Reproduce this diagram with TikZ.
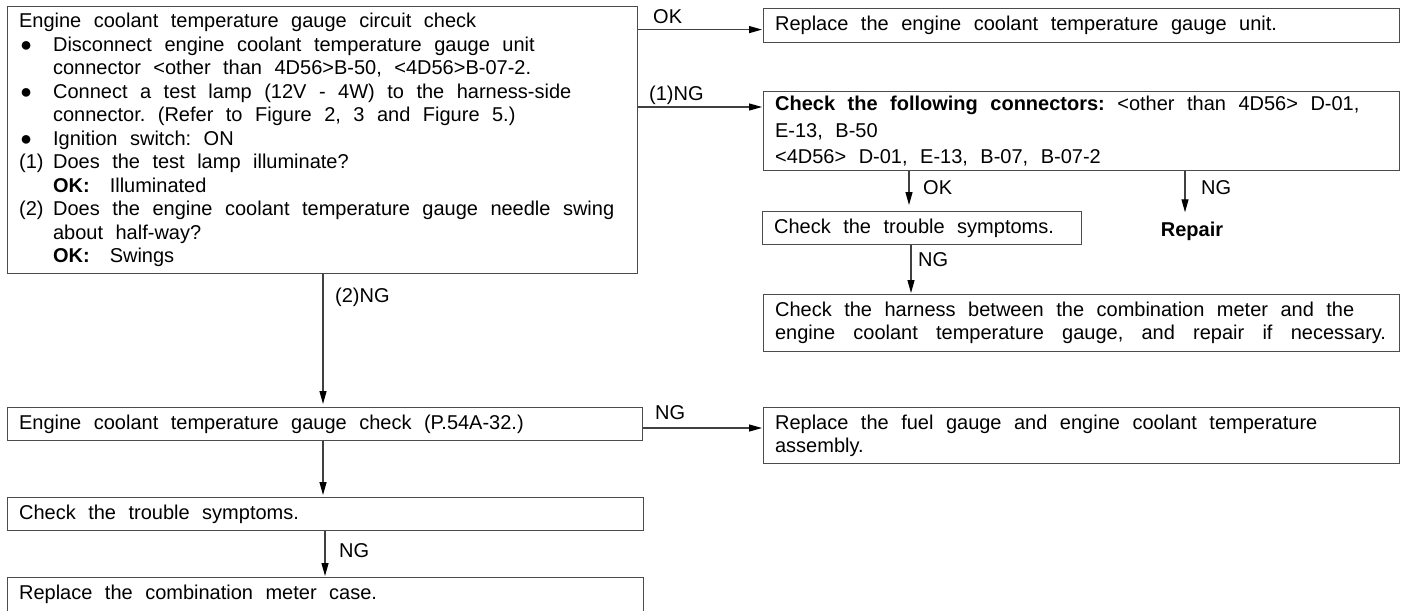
\documentclass[tikz,border=0pt]{standalone}
\usepackage{fontspec}
\setmainfont{Liberation Sans}
\usetikzlibrary{arrows.meta,calc}

% wide fixed word spacing used by all texts
\newcommand\wsp{\frenchspacing\spaceskip=12.5pt\relax\xspaceskip=12.5pt\relax}
% bulleted / numbered entry with hanging indent
\newcommand\bitem[2]{\par\noindent\hangindent=34pt\hangafter=1\relax\makebox[34pt][l]{#1}#2\par}
% a line spread to a given width
\newcommand\spreadline[2]{\makebox[#1][s]{\spaceskip=12.5pt plus 20pt\relax #2}}

\tikzset{
  txt/.style={font=\fontsize{20pt}{23.3pt}\selectfont},
  box/.style={txt, draw=black!70, line width=1.2pt, anchor=north west, align=left,
    inner xsep=11.5pt, inner ysep=0pt},
  lbl/.style={txt, inner sep=0pt, anchor=base west},
  arr/.style={draw=black!75, line width=1.2pt, -{Triangle[length=13pt,width=7pt,color=black]}, shorten >=1pt},
}

\begin{document}
\begin{tikzpicture}[x=1pt,y=-1pt]
\useasboundingbox (0,0) rectangle (1407,610);

% boxes
\node[box, minimum width=630pt, minimum height=267pt, text width=607pt,
      font=\fontsize{20pt}{23.5pt}\selectfont] (b1) at (7,6) {\wsp
Engine coolant temperature gauge circuit check
\bitem{\hspace{1pt}●}{Disconnect engine coolant temperature gauge unit\newline connector <other than 4D56>B-50, <4D56>B-07-2.}
\bitem{\hspace{1pt}●}{Connect a test lamp (12V - 4W) to the harness-side\newline connector. (Refer to Figure 2, 3 and Figure 5.)}
\bitem{\hspace{1pt}●}{Ignition switch: ON}
\bitem{(1)}{Does the test lamp illuminate?\newline\textbf{OK:}\hspace{20pt}Illuminated}
\bitem{(2)}{Does the engine coolant temperature gauge needle swing\newline about half-way?\newline\textbf{OK:}\hspace{20pt}Swings}};

\node[box, minimum width=636pt, minimum height=34pt, text width=613pt] (b2) at (763,8)
  {\wsp Replace the engine coolant temperature gauge unit.};

\node[box, minimum width=636pt, minimum height=79pt, text width=613pt,
      font=\fontsize{20pt}{26.5pt}\selectfont] (b3) at (763,91)
  {\wsp\textbf{Check the following connectors:} <other than 4D56> D-01,\\E-13, B-50\\<4D56> D-01, E-13, B-07, B-07-2};

\node[box, minimum width=319pt, minimum height=33pt, text width=296pt] (b4) at (762,211)
  {\wsp Check the trouble symptoms.};

\node[txt, inner sep=0pt, anchor=base] (rep) at (1192,236) {\bfseries Repair};

\node[box, minimum width=636pt, minimum height=57pt, text width=613pt] (b5) at (763,294)
  {\wsp Check the harness between the combination meter and the\\\spreadline{611pt}{engine coolant temperature gauge, and repair if necessary.}};

\node[box, minimum width=635pt, minimum height=33pt, text width=612pt] (b6) at (7,407)
  {\wsp Engine coolant temperature gauge check (P.54A-32.)};

\node[box, minimum width=636pt, minimum height=56pt, text width=613pt] (b7) at (763,407)
  {\wsp Replace the fuel gauge and engine coolant temperature\\assembly.};

\node[box, minimum width=636pt, minimum height=33pt, text width=613pt] (b8) at (7,497)
  {\wsp Check the trouble symptoms.};

\node[box, minimum width=636pt, minimum height=34pt, text width=613pt] (b9) at (7,577)
  {\wsp Replace the combination meter case.};

% connector end points
\coordinate (okIn) at ([yshift=-4pt]b2.west);
\coordinate (ngIn) at ([yshift=-16pt]b3.north west);
\coordinate (b3ok) at ([xshift=147pt]b4.north west);
\coordinate (repIn) at ([xshift=-7pt,yshift=8pt]rep.north);
\coordinate (b4ng) at ([xshift=149pt]b4.south west);
\coordinate (b1ng) at ([xshift=316pt]b1.south west);
\coordinate (b6ng) at ([yshift=-21pt]b7.north west);
\coordinate (b6dn) at ([xshift=316pt]b6.south west);
\coordinate (b8ng) at ([xshift=318pt]b8.south west);

% connectors
\draw[arr] (b1.east |- okIn) -- (okIn);
\draw[arr] (b1.east |- ngIn) -- (ngIn);
\draw[arr, shorten >=6pt] (b3.south -| b3ok) -- (b3ok);
\draw[arr] (b3.south -| repIn) -- (repIn);
\draw[arr] (b4ng) -- (b4ng |- b5.north);
\draw[arr, shorten >=3pt] (b1ng) -- (b1ng |- b6.north);
\draw[arr] (b6.east |- b6ng) -- (b6ng);
\draw[arr, shorten >=2pt] (b6dn) -- (b6dn |- b8.north);
\draw[arr] (b8ng) -- (b8ng |- b9.north);

% connector labels
\node[lbl] (lOK1) at (653,24) {OK};
\node[lbl] (lNG1) at (649,100) {(1)NG};
\node[lbl] (lOK2) at (923,194) {OK};
\node[lbl] (lNG2) at (1201,194) {NG};
\node[lbl] (lNG3) at (918,266) {NG};
\node[lbl] (lNG4) at (335,302) {(2)NG};
\node[lbl] (lNG5) at (655,419) {NG};
\node[lbl] (lNG6) at (339,557) {NG};
\end{tikzpicture}
\end{document}
